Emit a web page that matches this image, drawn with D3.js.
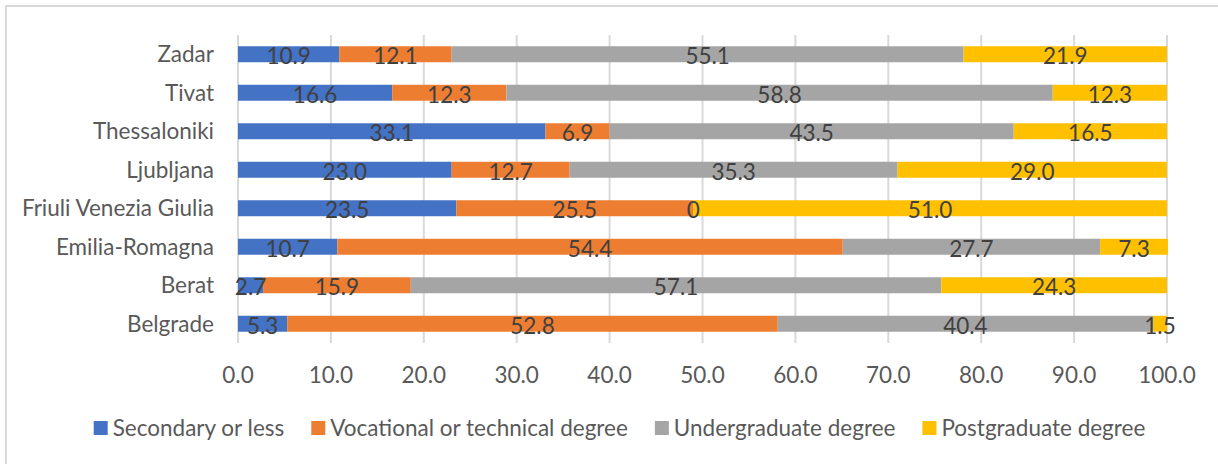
<!DOCTYPE html>
<html>
<head>
<meta charset="utf-8">
<script src="https://cdn.jsdelivr.net/npm/d3@7"></script>
<style>
  html, body { margin: 0; padding: 0; background: #fff; }
  svg { display: block; }
  text { font-family: Lato, "Liberation Sans", Arial, sans-serif; }
</style>
</head>
<body>
<svg id="chart" width="1218" height="464"></svg>
<script>
// Education level shares (%) by region
const categories = ["Zadar", "Tivat", "Thessaloniki", "Ljubljana", "Friuli Venezia Giulia", "Emilia-Romagna", "Berat", "Belgrade"];
const seriesNames = ["Secondary or less", "Vocational or technical degree", "Undergraduate degree", "Postgraduate degree"];
const secondary     = [10.9, 16.6, 33.1, 23.0, 23.5, 10.7, 2.7, 5.3];
const vocational    = [12.1, 12.3, 6.9, 12.7, 25.5, 54.4, 15.9, 52.8];
const undergraduate = [55.1, 58.8, 43.5, 35.3, 0, 27.7, 57.1, 40.4];
const postgraduate  = [21.9, 12.3, 16.5, 29.0, 51.0, 7.3, 24.3, 1.5];
const xTicks = [0, 10, 20, 30, 40, 50, 60, 70, 80, 90, 100];
const colors = ["#4472C4", "#ED7D31", "#A5A5A5", "#FFC000"];

const seriesValues = [secondary, vocational, undergraduate, postgraduate];
const rows = categories.map((c, i) => {
  const r = { category: c };
  seriesNames.forEach((s, j) => { r[s] = seriesValues[j][i]; });
  return r;
});
const stacked = d3.stack().keys(seriesNames)(rows);

const svg = d3.select("#chart");
const fontSize = 22.5;

// outer frame
svg.append("rect")
  .attr("x", 6).attr("y", 6)
  .attr("width", 1230).attr("height", 480)
  .attr("fill", "none").attr("stroke", "#D9D9D9").attr("stroke-width", 2);

const x = d3.scaleLinear().domain([0, 100]).range([238, 1167]);
const y = d3.scaleBand().domain(categories).range([35, 343])
  .paddingInner(0.585).paddingOuter(0.2925);

// vertical gridlines
svg.append("g").selectAll("line").data(xTicks).join("line")
  .attr("x1", d => x(d)).attr("x2", d => x(d))
  .attr("y1", 35).attr("y2", 343)
  .attr("stroke", "#D9D9D9").attr("stroke-width", 2);

// x axis tick labels
svg.append("g").selectAll("text").data(xTicks).join("text")
  .attr("x", d => x(d)).attr("y", 383)
  .attr("text-anchor", "middle")
  .attr("font-size", fontSize).attr("fill", "#595959")
  .text(d => d3.format(".1f")(d));

// category labels
svg.append("g").selectAll("text").data(categories).join("text")
  .attr("x", 214).attr("y", d => y(d) + y.bandwidth() / 2)
  .attr("dy", "0.36em")
  .attr("text-anchor", "end")
  .attr("font-size", fontSize).attr("fill", "#595959")
  .text(d => d);

// stacked bars
const layers = svg.append("g").selectAll("g").data(stacked).join("g")
  .attr("fill", (d, i) => colors[i]);

layers.selectAll("rect").data(d => d).join("rect")
  .attr("x", d => x(d[0]))
  .attr("y", d => y(d.data.category))
  .attr("width", d => x(d[1]) - x(d[0]))
  .attr("height", y.bandwidth());

// value labels centred in each segment
const labels = svg.append("g");
stacked.forEach(layer => {
  labels.selectAll(null).data(layer).join("text")
    .attr("x", d => (x(d[0]) + x(d[1])) / 2)
    .attr("y", d => y(d.data.category) + y.bandwidth() / 2 + 2)
    .attr("dy", "0.36em")
    .attr("text-anchor", "middle")
    .attr("font-size", fontSize).attr("fill", "#404040")
    .text(d => {
      const raw = d.data[layer.key];
      return raw === 0 ? "0" : d3.format(".1f")(raw);
    });
});

// legend
const legend = svg.append("g");
const sw = 14, gapText = 5, gapItem = 27;
let cx = 0;
seriesNames.forEach((name, i) => {
  const g = legend.append("g");
  g.append("rect").attr("x", 0).attr("y", -7).attr("width", sw).attr("height", sw).attr("fill", colors[i]);
  const t = g.append("text").attr("x", sw + gapText).attr("y", 0).attr("dy", "0.36em")
    .attr("font-size", fontSize).attr("fill", "#595959").text(name);
  const w = sw + gapText + t.node().getComputedTextLength();
  g.attr("transform", `translate(${cx},0)`);
  cx += w + gapItem;
});
const totalW = cx - gapItem;
legend.attr("transform", `translate(${619.5 - totalW / 2},428)`);
</script>
</body>
</html>
